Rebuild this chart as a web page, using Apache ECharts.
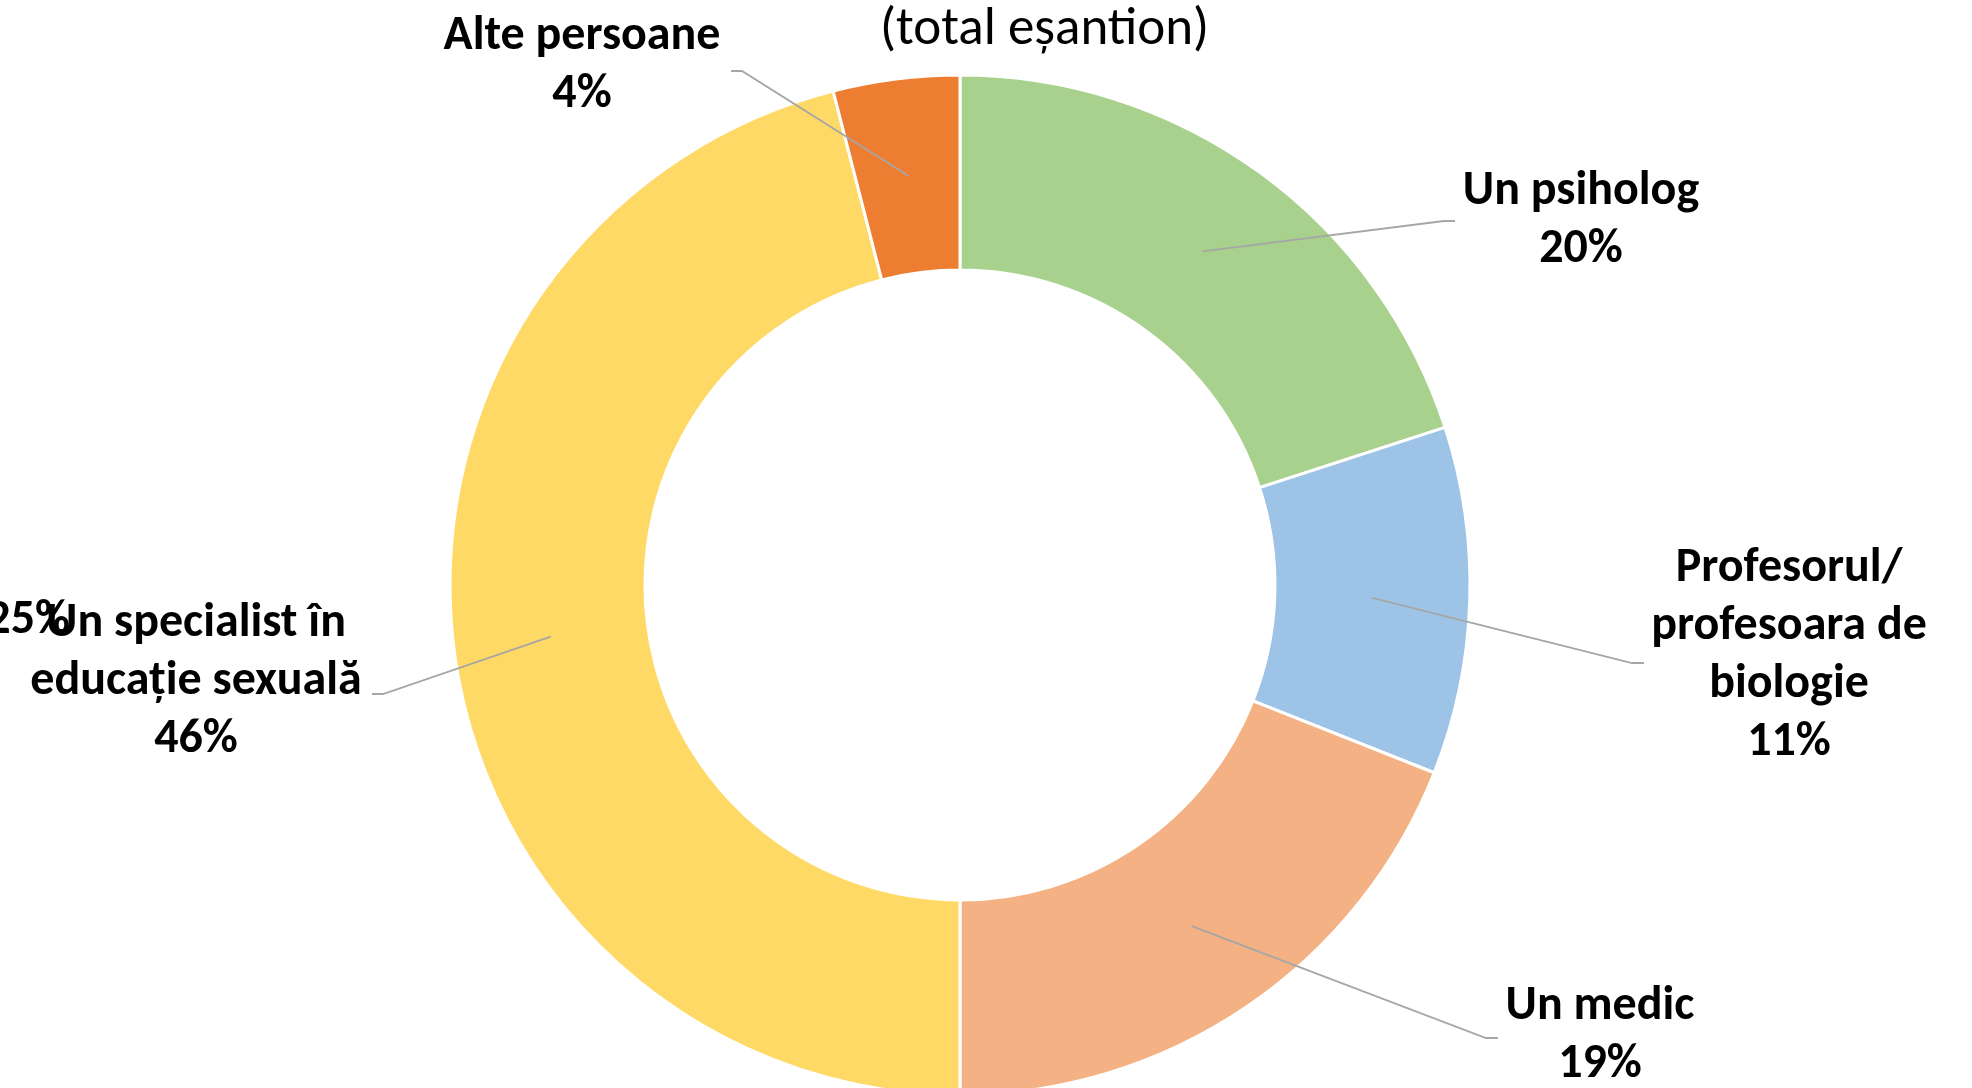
<!DOCTYPE html>
<html>
<head>
<meta charset="utf-8">
<script src="https://cdn.jsdelivr.net/npm/echarts@6/dist/echarts.min.js"></script>
<style>
    html, body { margin: 0; padding: 0; background: #ffffff; }
    #chart { width: 1972px; height: 1088px; }
</style>
</head>
<body>
<div id="chart"></div>
<script>
// date grafic
var categories = ['Un psiholog', 'Profesorul/\nprofesoara de\nbiologie', 'Un medic', 'Un specialist în\neducație sexuală', 'Alte persoane'];
var values = [20, 11, 19, 46, 4];
var colors = ['#A9D18E', '#9DC3E6', '#F4B183', '#FFD966', '#ED7D31'];
var titleText = '(total eșantion)';
var strayLabel = '25%';

// pozitii etichete (centru text) si cotul liniei de legatura
var labelPos = [[1581, 221], [1789, 656], [1600, 1036], [196, 682], [582, 66]];
var elbowPos = [[1444, 221, 1455], [1632, 663, 1644], [1486, 1038, 1498], [383, 694, 372], [742, 71, 731]];

var cx = 960, cy = 585, rIn = 315, rOut = 510;
var fontFam = "Carlito, 'Open Sans', 'Noto Sans', sans-serif";

(function() {
    var total = values.reduce(function(a, b) { return a + b; }, 0);
    var cum = [];
    var acc = 0;
    values.forEach(function(v) {
        cum.push((acc + v / 2) / total * 360);
        acc += v;
    });

    var pieData = categories.map(function(c, i) {
        return { name: c, value: values[i] };
    });

    var option = {
        backgroundColor: '#ffffff',
        title: {
            text: titleText,
            left: 880,
            top: -1,
            padding: 0,
            textStyle: {
                fontFamily: fontFam,
                fontSize: 53,
                lineHeight: 64,
                fontWeight: 'normal',
                color: '#000000'
            }
        },
        color: colors,
        graphic: [{
            type: 'text',
            x: 70,
            y: 621,
            z: 10,
            style: {
                text: strayLabel,
                fontFamily: fontFam,
                fontSize: 48,
                fontWeight: 'bold',
                fill: '#000000',
                align: 'right',
                verticalAlign: 'middle'
            }
        }],
        series: [{
            // inelul colorat
            type: 'pie',
            z: 2,
            center: [cx, cy],
            radius: [rIn, rOut],
            startAngle: 90,
            clockwise: true,
            animation: false,
            silent: true,
            itemStyle: {
                borderColor: '#ffffff',
                borderWidth: 3
            },
            label: { show: false },
            labelLine: { show: false },
            data: pieData
        }, {
            // etichete si linii deasupra inelului
            type: 'pie',
            z: 3,
            center: [cx, cy],
            radius: [rIn, rOut],
            startAngle: 90,
            clockwise: true,
            avoidLabelOverlap: false,
            animation: false,
            silent: true,
            itemStyle: {
                color: 'rgba(0,0,0,0)',
                borderWidth: 0
            },
            label: {
                show: true,
                position: 'outside',
                formatter: '{b}\n{d}%',
                fontFamily: fontFam,
                fontSize: 48,
                lineHeight: 58,
                fontWeight: 'bold',
                color: '#000000',
                align: 'center'
            },
            labelLine: {
                show: true,
                lineStyle: {
                    color: '#A6A6A6',
                    width: 1.8
                }
            },
            labelLayout: function(params) {
                var i = params.dataIndex;
                var ang = cum[i] * Math.PI / 180;
                var rMid = (rIn + rOut) / 2;
                var sx = cx + rMid * Math.sin(ang);
                var sy = cy - rMid * Math.cos(ang);
                var e = elbowPos[i];
                return {
                    x: labelPos[i][0],
                    y: labelPos[i][1],
                    align: 'center',
                    verticalAlign: 'middle',
                    labelLinePoints: [[sx, sy], [e[0], e[1]], [e[2], e[1]]]
                };
            },
            data: pieData
        }]
    };

    var myChart = echarts.init(document.getElementById('chart'));
    myChart.setOption(option);
})();
</script>
</body>
</html>
